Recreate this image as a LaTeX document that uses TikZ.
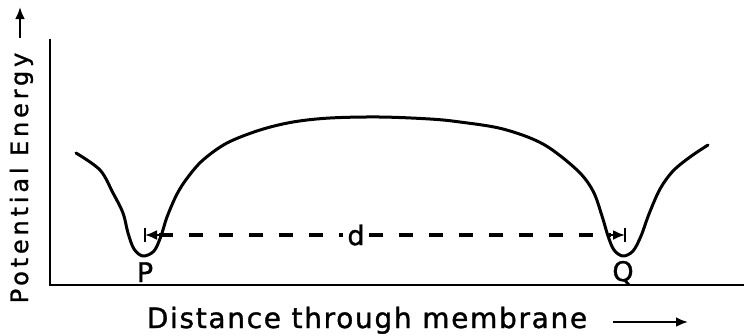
\documentclass[tikz,border=0pt]{standalone}
\usepackage{fontspec}
\setmainfont[FakeBold=1.2]{DejaVu Sans}
\newfontfamily\xlabfont[LetterSpace=6,FakeBold=1.2]{DejaVu Sans}
\newfontfamily\ylabfont[LetterSpace=16,FakeBold=1.2]{DejaVu Sans}
\usetikzlibrary{arrows.meta}
\tikzset{
  axisline/.style={line width=2.6bp, line cap=rect},
  curveline/.style={line width=3bp, line join=round, line cap=round},
  dimline/.style={line width=3.2bp, dash pattern=on 14bp off 16bp},
  tipstyle/.style={-{Latex[length=12bp,width=10bp]}},
  xlabtext/.style={font=\xlabfont\fontsize{28bp}{32bp}\selectfont, inner sep=0pt},
  ylabtext/.style={font=\ylabfont\fontsize{24bp}{28bp}\selectfont, inner sep=0pt},
  pttext/.style={font=\fontsize{27bp}{30bp}\selectfont, inner sep=0pt}
}
\begin{document}
\begin{tikzpicture}[x=1bp,y=-1bp]
\useasboundingbox (0,0) rectangle (744,335);
% axes
\coordinate (ytop) at (50,40);
\coordinate (O) at (50,285);
\coordinate (xend) at (744,285);
\draw[axisline] (ytop) -- (O) -- (xend);
% potential curve
\draw[curveline] plot[smooth, tension=0.55] coordinates {
 (76,153) (100,170) (113,193) (123,213) (128,233) (134,249) (143,256)
 (154,251) (161,236) (167,217) (177,194) (188,177) (203,160) (227,143)
 (260,130) (293,122) (330,118) (380,117) (430,119) (460,122) (503,129)
 (543,144) (577,170) (593,191) (602,216) (608,236) (614,250) (623,256)
 (633,251) (641,236) (649,214) (660,189) (673,171) (690,157) (708,145)};
% distance d
\coordinate (dl) at (145,235);
\coordinate (dr) at (625,235);
\draw[dimline] ([xshift=14bp]dl) -- ([xshift=-14bp]dr);
\draw[line width=2.2bp, tipstyle] ([xshift=16bp]dl) -- (dl);
\draw[line width=2.2bp, tipstyle] ([xshift=-16bp]dr) -- (dr);
\draw[line width=2.4bp] ([yshift=-7bp]dl) -- ([yshift=7bp]dl);
\draw[line width=2.4bp] ([yshift=-7bp]dr) -- ([yshift=7bp]dr);
\node[pttext, fill=white, inner xsep=4bp, inner ysep=2bp] (d) at (356,235) {d};
% minima labels
\node[pttext, anchor=base] (P) at (145,282) {P};
\node[pttext, anchor=base] (Q) at (623,281) {Q};
% axis labels
\node[xlabtext, anchor=base] (xlab) at (367,328) {Distance through membrane};
\coordinate (xa1) at (613,322);
\coordinate (xa2) at (688,322);
\draw[line width=2.6bp, tipstyle] (xa1) -- (xa2);
\node[ylabtext, anchor=base, rotate=90] (ylab) at (28,178) {Potential Energy};
\coordinate (ya1) at (20,38);
\coordinate (ya2) at (20,7);
\draw[line width=2.6bp, tipstyle] (ya1) -- (ya2);
\end{tikzpicture}
\end{document}
